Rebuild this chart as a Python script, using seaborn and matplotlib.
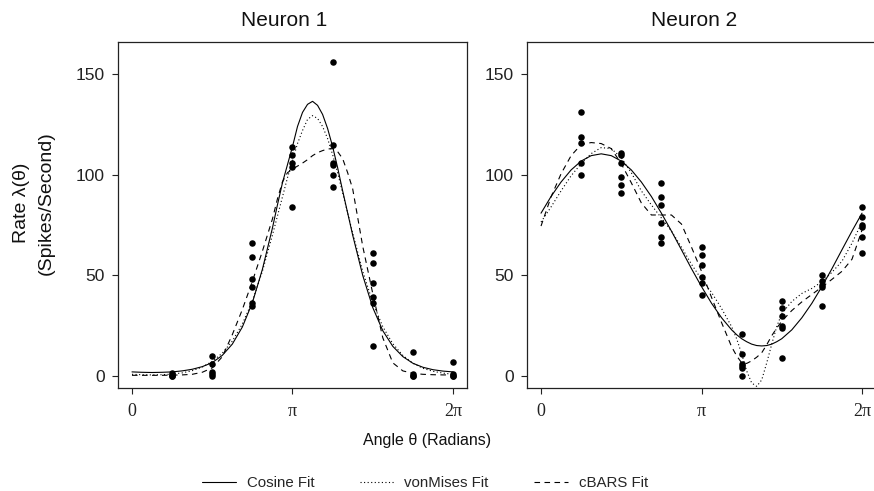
import matplotlib

matplotlib.use("Agg")
import matplotlib.pyplot as plt
import numpy as np
import pandas as pd
import seaborn as sns

# observed rates: angle given as multiples of pi/4
neuron1_quarter = [1] * 4 + [2] * 5 + [3] * 6 + [4] * 5 + [5] * 6 + [6] * 6 + [7] * 4 + [8] * 4
neuron1_rate = [
    1.5, 0.5, 0, 0,
    10, 6, 2, 1, 0,
    66, 59, 48, 44, 35, 36,
    114, 110, 106, 104, 84,
    156, 115, 106, 105, 100, 94,
    61, 56, 46, 39, 36, 15,
    12, 1, 0, 0,
    7, 1, 0, 0,
]
neuron2_quarter = [1] * 5 + [2] * 6 + [3] * 6 + [4] * 6 + [5] * 6 + [6] * 6 + [7] * 5 + [8] * 6
neuron2_rate = [
    131, 119, 116, 106, 100,
    111, 110, 106, 99, 95, 91,
    96, 89, 85, 76, 69, 66,
    64, 60, 55, 49, 46, 40,
    21, 11, 6, 5, 4, 0,
    37, 34, 30, 25, 24, 9,
    50, 47, 45, 44, 35,
    84, 79, 75, 74, 69, 61,
]

# fitted curves; sample positions in units of pi/32,
# denser where the curves bend sharply
neuron1_grid = list(range(0, 28, 2)) + list(range(28, 45)) + list(range(46, 65, 2))
neuron1_cosine = [2.0, 1.8, 1.7, 1.8, 2.0, 2.5, 3.3, 4.6, 6.6, 10.2, 15.8, 24.3, 36.4, 53.0,
                  73.5, 85.0, 96.0, 105.0, 114.0, 124.0, 131.0, 135.0, 136.5, 134.5, 130.0, 123.0, 114.0,
                  103.5, 92.0, 81.0, 70.0,
                  50.0, 34.0, 22.5, 14.7, 9.6, 6.3, 4.3, 3.1, 2.4, 2.0]
neuron1_vonmises = [0.8, 0.6, 0.5, 0.6, 0.9, 1.5, 2.6, 4.4, 7.2, 11.3, 17.3, 25.8, 37.2, 52.0,
                    70.0, 79.5, 89.0, 98.5, 107.0, 115.5, 122.0, 127.5, 129.4, 128.0, 124.0, 118.0, 110.0,
                    101.0, 91.0, 81.0, 71.0,
                    52.0, 36.5, 24.5, 16.0, 10.2, 6.3, 3.8, 2.3, 1.4, 0.8]
neuron1_cbars = [0.3, 0.3, 0.3, 0.3, 0.4, 0.5, 0.8, 1.8, 4.0, 9.5, 20.5, 33.0, 47.0, 62.0,
                 78.0, 88.0, 96.5, 101.0, 102.8, 104.3, 105.8, 107.5, 109.5, 111.0, 112.0, 112.8, 113.0,
                 111.5, 108.0, 101.0, 93.0,
                 64.5, 41.0, 19.0, 6.5, 2.5, 1.3, 0.8, 0.6, 0.5, 0.5]

neuron2_grid = list(range(0, 39, 2)) + list(range(39, 49)) + list(range(50, 65, 2))
neuron2_cosine = [80.9, 89.2, 96.4, 102.4, 106.8, 109.5, 110.4, 109.5, 106.8, 102.4, 96.4, 89.2, 80.9, 72.0,
                  62.7, 53.3, 44.4, 36.1, 28.9, 22.9,
                  20.5, 18.5, 17.0, 15.8, 15.1, 14.9, 15.1, 15.8, 17.0, 18.5,
                  22.9, 28.9, 36.1, 44.4, 53.3, 62.7, 72.0, 80.9]
neuron2_vonmises = [76.5, 84.0, 92.0, 99.5, 105.5, 110.5, 113.5, 113.0, 108.5, 101.0, 92.0, 85.0, 78.5, 72.0,
                    64.0, 55.5, 48.0, 41.5, 33.5, 24.5,
                    18.5, 11.0, 2.5, -3.5, -5.2, -2.0, 6.5, 15.8, 24.5, 31.0,
                    37.0, 41.0, 43.5, 46.8, 51.5, 57.0, 66.0, 76.5]
neuron2_cbars = [74.5, 89.0, 100.5, 109.5, 115.0, 116.0, 115.5, 113.0, 105.5, 96.0, 86.0, 80.0, 80.0, 80.0,
                 75.5, 64.0, 52.0, 39.0, 26.5, 14.5,
                 10.0, 6.5, 6.2, 7.5, 9.3, 11.5, 15.5, 20.0, 23.8, 27.2,
                 32.5, 36.8, 40.5, 44.2, 48.0, 52.0, 58.0, 72.5]

fit_labels = ["Cosine Fit", "vonMises Fit", "cBARS Fit"]
fit_styles = {"Cosine Fit": "-", "vonMises Fit": (0, (1, 2.2)), "cBARS Fit": (0, (5, 4))}

sns.set_theme(style="ticks")
plt.rcParams["font.family"] = ["Liberation Sans", "DejaVu Sans"]


def draw_panel(ax, quarters, rates, grid, curves):
    points = pd.DataFrame({"angle": np.array(quarters) * np.pi / 4, "rate": rates})
    angles = np.array(grid) * np.pi / 32
    for label, values in zip(fit_labels, curves):
        sns.lineplot(x=angles, y=values, color="black", linewidth=0.8, linestyle=fit_styles[label],
                     estimator=None, sort=False, ax=ax)
    sns.scatterplot(data=points, x="angle", y="rate", color="black", s=22, linewidth=0, ax=ax, zorder=3)
    ax.set_xlim(-0.274, 6.557)
    ax.set_ylim(-6, 166)
    ax.set_xticks([0, np.pi, 2 * np.pi])
    ax.set_xticklabels(["0", "π", "2π"], family=["Liberation Serif", "DejaVu Serif"], fontsize=13)
    ax.set_yticks([0, 50, 100, 150])
    ax.tick_params(axis="y", labelsize=12.5, length=4.5, width=0.8, pad=5, colors="#222222")
    ax.tick_params(axis="x", length=4.5, width=0.8, pad=6, colors="#222222")
    ax.set_xlabel("")
    ax.set_ylabel("")
    for spine in ax.spines.values():
        spine.set_visible(True)
        spine.set_linewidth(0.9)
        spine.set_color("#222222")


fig = plt.figure(figsize=(8.74, 4.91), dpi=100)
ax_left = fig.add_axes([0.1350, 0.2098, 0.3993, 0.7047])
ax_right = fig.add_axes([0.6030, 0.2098, 0.3993, 0.7047])

draw_panel(ax_left, neuron1_quarter, neuron1_rate, neuron1_grid,
           [neuron1_cosine, neuron1_vonmises, neuron1_cbars])
draw_panel(ax_right, neuron2_quarter, neuron2_rate, neuron2_grid,
           [neuron2_cosine, neuron2_vonmises, neuron2_cbars])
ax_right.spines["right"].set_visible(False)

fig.text(284 / 874, 1 - 21 / 491, "Neuron 1", ha="center", va="center", fontsize=15, color="#111111")
fig.text(694 / 874, 1 - 21 / 491, "Neuron 2", ha="center", va="center", fontsize=15, color="#111111")
fig.text(427 / 874, 1 - 440 / 491, "Angle θ (Radians)", ha="center", va="center", fontsize=11.5, color="#111111")
fig.text(21 / 874, 1 - 203 / 491, "Rate λ(θ)", ha="center", va="center", rotation=90, fontsize=14, color="#111111")
fig.text(46 / 874, 1 - 203 / 491, "(Spikes/Second)", ha="center", va="center", rotation=90, fontsize=14,
         color="#111111")

handles = [
    plt.Line2D([0], [0], color="black", linewidth=0.8, linestyle=fit_styles[label], label=label)
    for label in fit_labels
]
fig.legend(handles=handles, loc="center", bbox_to_anchor=(425 / 874, 1 - 483 / 491), ncol=3, frameon=False,
           fontsize=10.8, handlelength=2.3, handletextpad=0.7, columnspacing=3.0, borderaxespad=0, borderpad=0)

fig.savefig("out.png", dpi=100)
plt.close(fig)
